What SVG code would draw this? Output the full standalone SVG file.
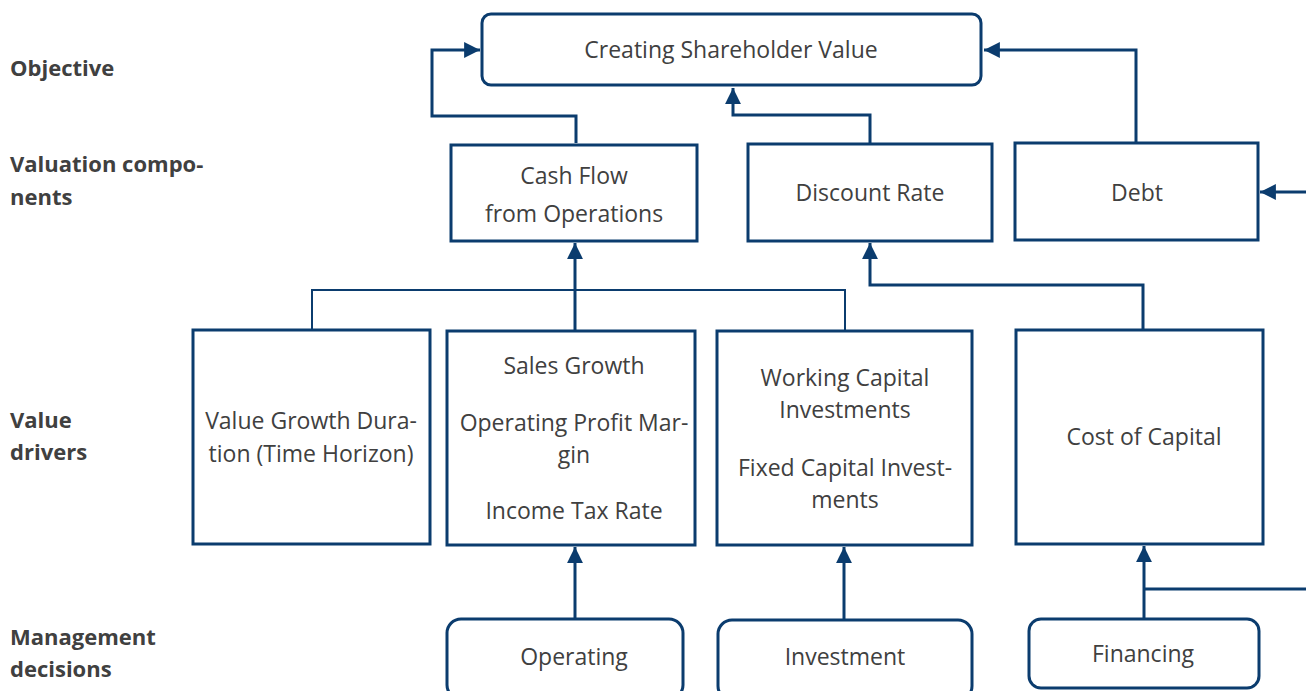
<svg xmlns="http://www.w3.org/2000/svg" width="1306" height="691" viewBox="0 0 1306 691">
<style>
.box{fill:#fff;stroke:#0b3c6e;stroke-width:3}
.t{font-family:"Open Sans","Liberation Sans",sans-serif;font-size:23px;fill:#404040;text-anchor:middle}
.lbl{font-family:"Open Sans","Liberation Sans",sans-serif;font-size:22px;font-weight:bold;fill:#404040}
.c{fill:none;stroke:#0b3c6e;stroke-width:3}
.thin{fill:none;stroke:#0b3c6e;stroke-width:2}
</style>
<defs>
<marker id="ah" viewBox="0 0 10 10" refX="10" refY="5" markerWidth="5.3" markerHeight="5.3" orient="auto" markerUnits="strokeWidth">
<path d="M0,0 L10,5 L0,10 Z" fill="#0b3c6e"/>
</marker>
</defs>
<rect width="1306" height="691" fill="#fff"/>
<g id="labels">
<text class="lbl" x="10" y="76">Objective</text>
<text class="lbl" x="10" y="172">Valuation compo-</text>
<text class="lbl" x="10" y="205">nents</text>
<text class="lbl" x="10" y="428">Value</text>
<text class="lbl" x="10" y="460">drivers</text>
<text class="lbl" x="10" y="645">Management</text>
<text class="lbl" x="10" y="677">decisions</text>
</g>
<g id="connectors">
<polyline class="c" points="576,143 576,116 432,116 432,50 480,50" marker-end="url(#ah)"/>
<polyline class="c" points="870,143 870,115 733,115 733,88" marker-end="url(#ah)"/>
<polyline class="c" points="1136,142 1136,50 984,50" marker-end="url(#ah)"/>
<line class="c" x1="1306" y1="192" x2="1260" y2="192" marker-end="url(#ah)"/>
<polyline class="thin" points="312,330 312,290 845,290 845,331"/>
<line class="c" x1="575" y1="331" x2="575" y2="243" marker-end="url(#ah)"/>
<polyline class="c" points="1143,330 1143,285 870,285 870,243" marker-end="url(#ah)"/>
<line class="c" x1="575" y1="619" x2="575" y2="547" marker-end="url(#ah)"/>
<line class="c" x1="844" y1="620" x2="844" y2="547" marker-end="url(#ah)"/>
<line class="c" x1="1144" y1="619" x2="1144" y2="546" marker-end="url(#ah)"/>
<polyline class="c" points="1144,589 1306,589"/>
</g>
<g id="n-objective">
<rect class="box" x="482" y="14" width="499" height="71" rx="9" stroke-width="2"/>
<text class="t" x="731" y="58">Creating Shareholder Value</text>
</g>
<g id="n-cashflow">
<rect class="box" x="451" y="145" width="246" height="96"/>
<text class="t" x="574" y="184">Cash Flow</text>
<text class="t" x="574" y="222">from Operations</text>
</g>
<g id="n-discount">
<rect class="box" x="748" y="144" width="244" height="97"/>
<text class="t" x="870" y="201">Discount Rate</text>
</g>
<g id="n-debt">
<rect class="box" x="1015" y="143" width="243" height="97"/>
<text class="t" x="1137" y="201">Debt</text>
</g>
<g id="n-duration">
<rect class="box" x="193" y="330" width="237" height="214"/>
<text class="t" x="311" y="429">Value Growth Dura-</text>
<text class="t" x="311" y="462">tion (Time Horizon)</text>
</g>
<g id="n-sales">
<rect class="box" x="447" y="331" width="248" height="214"/>
<text class="t" x="574" y="374">Sales Growth</text>
<text class="t" x="574" y="431">Operating Profit Mar-</text>
<text class="t" x="574" y="463">gin</text>
<text class="t" x="574" y="519">Income Tax Rate</text>
</g>
<g id="n-capital">
<rect class="box" x="717" y="331" width="255" height="214"/>
<text class="t" x="845" y="386">Working Capital</text>
<text class="t" x="845" y="418">Investments</text>
<text class="t" x="845" y="476">Fixed Capital Invest-</text>
<text class="t" x="845" y="508">ments</text>
</g>
<g id="n-costcap">
<rect class="box" x="1016" y="330" width="247" height="214"/>
<text class="t" x="1144" y="445">Cost of Capital</text>
</g>
<g id="n-operating">
<rect class="box" x="447" y="619" width="236" height="80" rx="14" stroke-width="2"/>
<text class="t" x="574" y="665">Operating</text>
</g>
<g id="n-investment">
<rect class="box" x="718" y="620" width="254" height="80" rx="14" stroke-width="2"/>
<text class="t" x="845" y="665">Investment</text>
</g>
<g id="n-financing">
<rect class="box" x="1029" y="619" width="230" height="69" rx="12" stroke-width="2"/>
<text class="t" x="1143" y="662">Financing</text>
</g>
</svg>
